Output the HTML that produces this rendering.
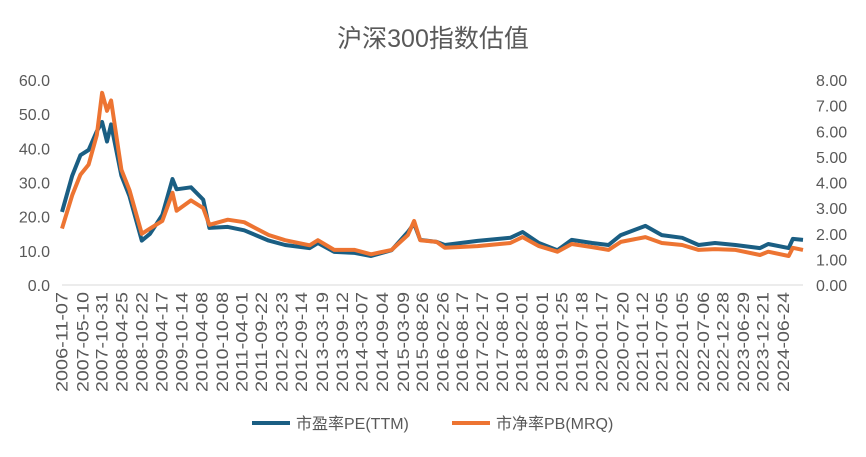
<!DOCTYPE html>
<html><head><meta charset="utf-8"><style>
body{margin:0;background:#fff;}
svg text{font-family:"Liberation Sans","Noto Sans CJK SC",sans-serif;fill:#595959;}
</style></head><body>
<svg id="chart" width="866" height="452" xmlns="http://www.w3.org/2000/svg">
<text x="433" y="47" text-anchor="middle" font-size="25">沪深300指数估值</text>
<g id="axes"></g>
<g id="series"></g>
<g>
<line x1="252" y1="423" x2="290" y2="423" stroke="#1a5e83" stroke-width="4"/>
<text x="296" y="429" font-size="16">市盈率PE(TTM)</text>
<line x1="452" y1="423" x2="490" y2="423" stroke="#ed7432" stroke-width="4"/>
<text x="496" y="429" font-size="16">市净率PB(MRQ)</text>
</g>
</svg>
<script>
const times=[2006.85,2007.1,2007.3,2007.5,2007.7,2007.83,2007.95,2008.05,2008.3,2008.5,2008.8,2009.0,2009.3,2009.55,2009.65,2010.0,2010.3,2010.45,2010.9,2011.3,2011.9,2012.3,2012.9,2013.1,2013.5,2014.0,2014.4,2014.9,2015.3,2015.45,2015.6,2016.0,2016.2,2017.0,2017.8,2018.1,2018.5,2018.95,2019.3,2019.8,2020.2,2020.5,2021.1,2021.5,2022.0,2022.4,2022.8,2023.3,2023.9,2024.1,2024.6,2024.7,2024.95];
const peValues=[21.4,32,38,39.5,45,47.7,42,47,32,26,13,15,20.5,31,28,28.6,25,16.7,17,16,13,11.7,10.8,12.3,9.7,9.4,8.5,10.2,15.5,18,13.2,12.6,11.7,12.9,13.8,15.5,12.3,10.2,13.2,12.3,11.7,14.6,17.3,14.6,13.8,11.7,12.3,11.7,10.8,12,10.8,13.5,13.2];
const pbValues=[2.2,3.5,4.3,4.7,5.85,7.5,6.8,7.2,4.5,3.7,2.0,2.2,2.5,3.6,2.9,3.3,3.0,2.35,2.55,2.45,1.95,1.75,1.55,1.75,1.37,1.37,1.2,1.37,1.95,2.5,1.75,1.68,1.45,1.52,1.64,1.87,1.52,1.3,1.6,1.48,1.37,1.68,1.87,1.64,1.56,1.37,1.4,1.37,1.17,1.3,1.13,1.45,1.37];
const leftTicks=[0,10,20,30,40,50,60];
const rightTicks=[0,1,2,3,4,5,6,7,8];
const dateLabels=["2006-11-07","2007-05-10","2007-10-31","2008-04-25","2008-10-22","2009-04-17","2009-10-14","2010-04-08","2010-10-08","2011-04-01","2011-09-22","2012-03-23","2012-09-14","2013-03-19","2013-09-12","2014-03-07","2014-09-04","2015-03-09","2015-08-26","2016-02-26","2016-08-17","2017-02-17","2017-08-10","2018-02-01","2018-08-01","2019-01-25","2019-07-18","2020-01-17","2020-07-20","2021-01-12","2021-07-05","2022-01-05","2022-07-06","2022-12-28","2023-06-29","2023-12-21","2024-06-24"];
const NS="http://www.w3.org/2000/svg";
const X0=62,X1=803,T0=2006.85,T1=2024.95,YB=285,YT=80;
const x=t=>X0+(t-T0)/(T1-T0)*(X1-X0);
const yL=v=>YB-v/60*(YB-YT);
const yR=v=>YB-v/8*(YB-YT);
function mk(tag,attrs,parent){const e=document.createElementNS(NS,tag);for(const k in attrs)e.setAttribute(k,attrs[k]);parent.appendChild(e);return e;}
const axes=document.getElementById('axes'),series=document.getElementById('series');
const base=mk('line',{x1:X0,x2:X1,y1:YB,y2:YB,stroke:'#d9d9d9','stroke-width':1},axes);


leftTicks.forEach(v=>{const t=mk('text',{x:50,y:yL(v)+6,'text-anchor':'end','font-size':16},axes);t.textContent=v.toFixed(1);

});
rightTicks.forEach(v=>{const t=mk('text',{x:816,y:yR(v)+6,'text-anchor':'start','font-size':16},axes);t.textContent=v.toFixed(2);

});
function toYear(s){const p=s.split('-').map(Number);return p[0]+(p[1]-1)/12+(p[2]-1)/365;}
dateLabels.forEach(s=>{const px=x(toYear(s))+5.5;const t=mk('text',{x:0,y:0,'text-anchor':'end','font-size':16.5,textLength:100,lengthAdjust:'spacingAndGlyphs',transform:`translate(${px},292) rotate(-90)`},axes);t.textContent=s;

});
function line(vals,yf,color,name){const d=vals.map((v,i)=>(i?'L':'M')+x(times[i]).toFixed(1)+','+yf(v).toFixed(1)).join('');
const p=mk('path',{d:d,fill:'none',stroke:color,'stroke-width':4,'stroke-linejoin':'round'},series);

}
line(peValues,yL,'#1a5e83','pe-line');
line(pbValues,yR,'#ed7432','pb-line');
</script>
</body></html>
